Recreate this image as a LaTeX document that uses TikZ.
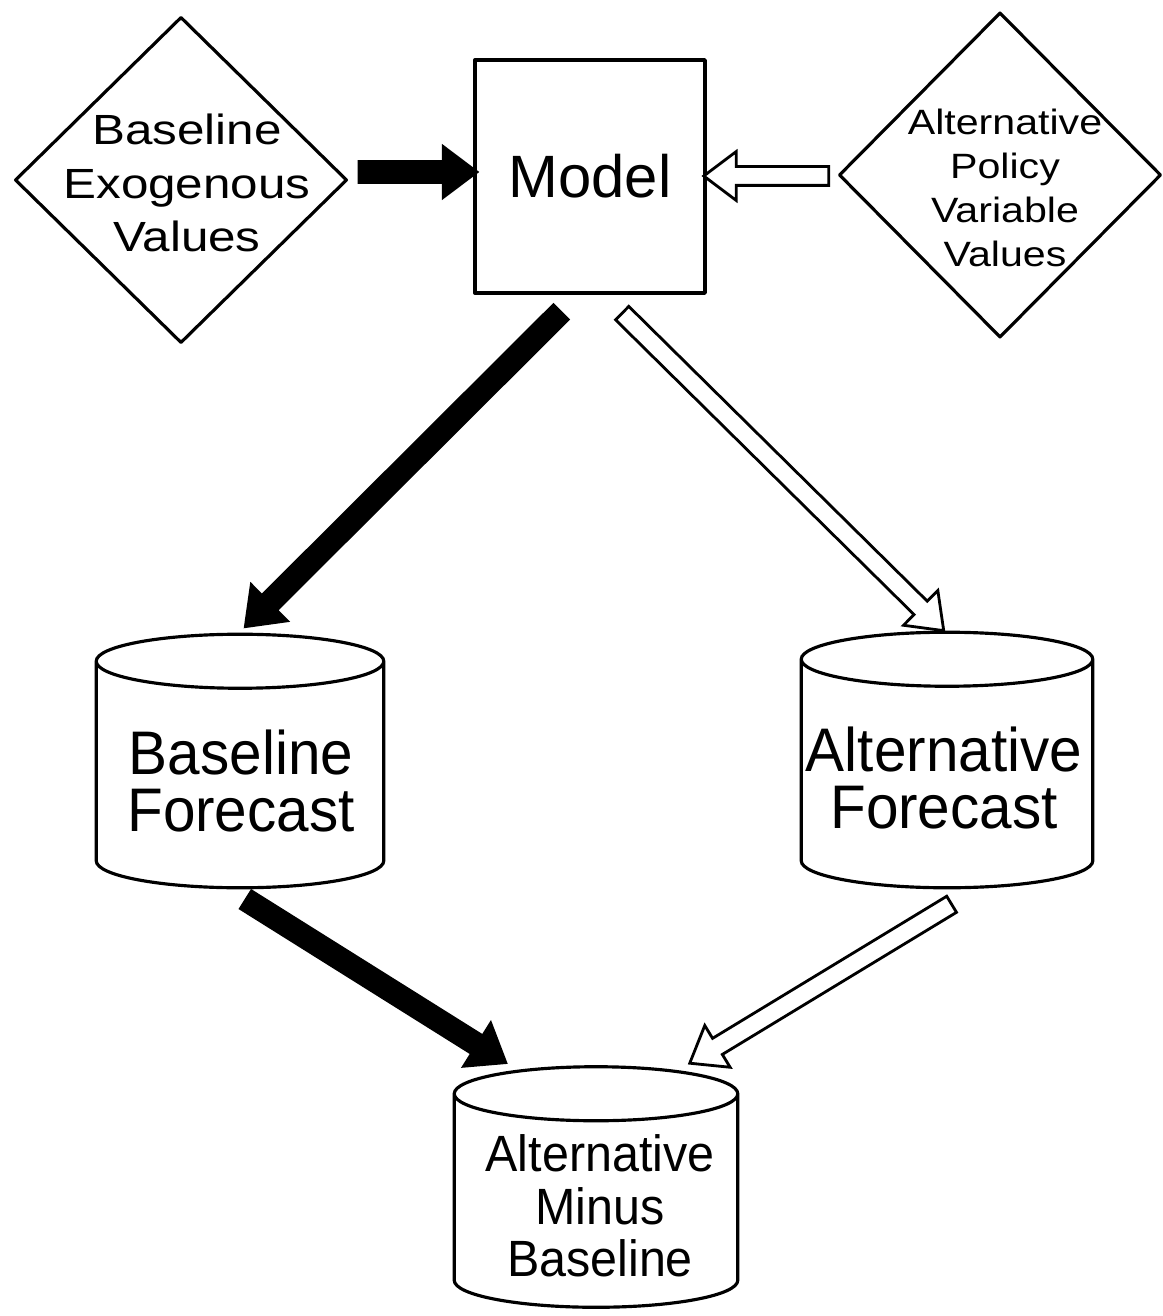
\documentclass[tikz,border=0pt]{standalone}
\usepackage{fontspec}
\setmainfont{Liberation Sans}
\newfontfamily\diafont{Liberation Sans}[FakeStretch=1.17]
\newfontfamily\cylfont{Liberation Sans}[FakeStretch=0.95]
\usetikzlibrary{shapes.geometric,shapes.arrows,calc}

% block arrow laid along the line from #2 to #3
\newcommand{\bigarrow}[3]{%
  \path let \p1=($(#3)-(#2)$) in (#2) -- (#3)
    node[#1, minimum height={veclen(\x1,\y1)}] {};}

% drum outline round the box of node #1
\newcommand{\drum}[1]{%
  \draw[box] let \p1=(#1.north west), \p2=(#1.south east), \n1={(\x2-\x1)/2} in
    ($(#1.north west)+(0,-0.27cm)$) arc[start angle=180, end angle=0, x radius=\n1, y radius=0.27cm]
    -- ($(#1.south east)+(0,0.27cm)$) arc[start angle=0, end angle=-180, x radius=\n1, y radius=0.27cm]
    -- cycle
    ($(#1.north west)+(0,-0.27cm)$) arc[start angle=180, end angle=360, x radius=\n1, y radius=0.27cm];}

\begin{document}
\begin{tikzpicture}[x=0.01cm, y=-0.01cm,
    box/.style={draw, line width=0.9pt, line join=round},
    dia/.style={box, diamond, inner sep=0pt},
    cyl/.style={inner sep=0pt},
    txt/.style={align=center, inner sep=0pt},
    openarrow/.style={single arrow, draw, fill=white, line width=0.8pt,
      inner xsep=0pt, inner ysep=0.08cm, single arrow head extend=0.15cm,
      single arrow tip angle=74, single arrow head indent=0pt,
      midway, sloped, allow upside down},
    fatarrow/.style={openarrow, fill=black, inner ysep=0.09cm}]
  \useasboundingbox (0,0) rectangle (1162,1316);

  % inputs and model
  \node[dia, minimum width=3.32cm, minimum height=3.26cm] (bev) at (181,180) {};
  \node[txt, font=\diafont\fontsize{12}{15.3}\selectfont] (bev-t) at (187,183) {Baseline\\Exogenous\\Values};
  \node[box, minimum width=2.3cm, minimum height=2.33cm, font=\fontsize{17}{20}\selectfont] (mdl) at (590,176.5) {Model};
  \node[dia, minimum width=3.22cm, minimum height=3.25cm] (apv) at (1000,175) {};
  \node[txt, font=\diafont\fontsize{10}{12.5}\selectfont] (apv-t) at (1005,188) {Alternative\\Policy\\Variable\\Values};

  % forecasts
  \node[cyl, minimum width=2.86cm, minimum height=2.52cm] (bfc) at (240,761) {};
  \node[txt, font=\cylfont\fontsize{17.5}{16}\selectfont] (bfc-t) at (241,781) {Baseline\\Forecast};
  \node[cyl, minimum width=2.9cm, minimum height=2.54cm] (afc) at (947,760) {};
  \node[txt, font=\cylfont\fontsize{17.5}{16}\selectfont] (afc-t) at (944,778) {Alternative\\Forecast};
  \node[cyl, minimum width=2.82cm, minimum height=2.39cm] (amb) at (596,1187) {};
  \node[txt, font=\cylfont\fontsize{14.5}{15}\selectfont] (amb-t) at (600,1206) {Alternative\\Minus\\Baseline};
  \drum{bfc}
  \drum{afc}
  \drum{amb}

  % arrow ends
  \coordinate (bev-out) at (352,172);
  \coordinate (mdl-in) at (470,172);
  \coordinate (apv-out) at (835,176);
  \coordinate (mdl-in2) at (710,176);
  \coordinate (mdl-out) at (566,307);
  \coordinate (bfc-in) at (250,622);
  \coordinate (mdl-out2) at (617,308);
  \coordinate (afc-in) at (940,627);
  \coordinate (bfc-out) at (240,896);
  \coordinate (amb-in) at (500,1059);
  \coordinate (afc-out) at (957,901);
  \coordinate (amb-in2) at (695,1060);

  \bigarrow{fatarrow}{bev-out}{mdl-in}
  \bigarrow{openarrow}{apv-out}{mdl-in2}
  \bigarrow{fatarrow}{mdl-out}{bfc-in}
  \bigarrow{openarrow}{mdl-out2}{afc-in}
  \bigarrow{fatarrow}{bfc-out}{amb-in}
  \bigarrow{openarrow}{afc-out}{amb-in2}
\end{tikzpicture}
\end{document}
